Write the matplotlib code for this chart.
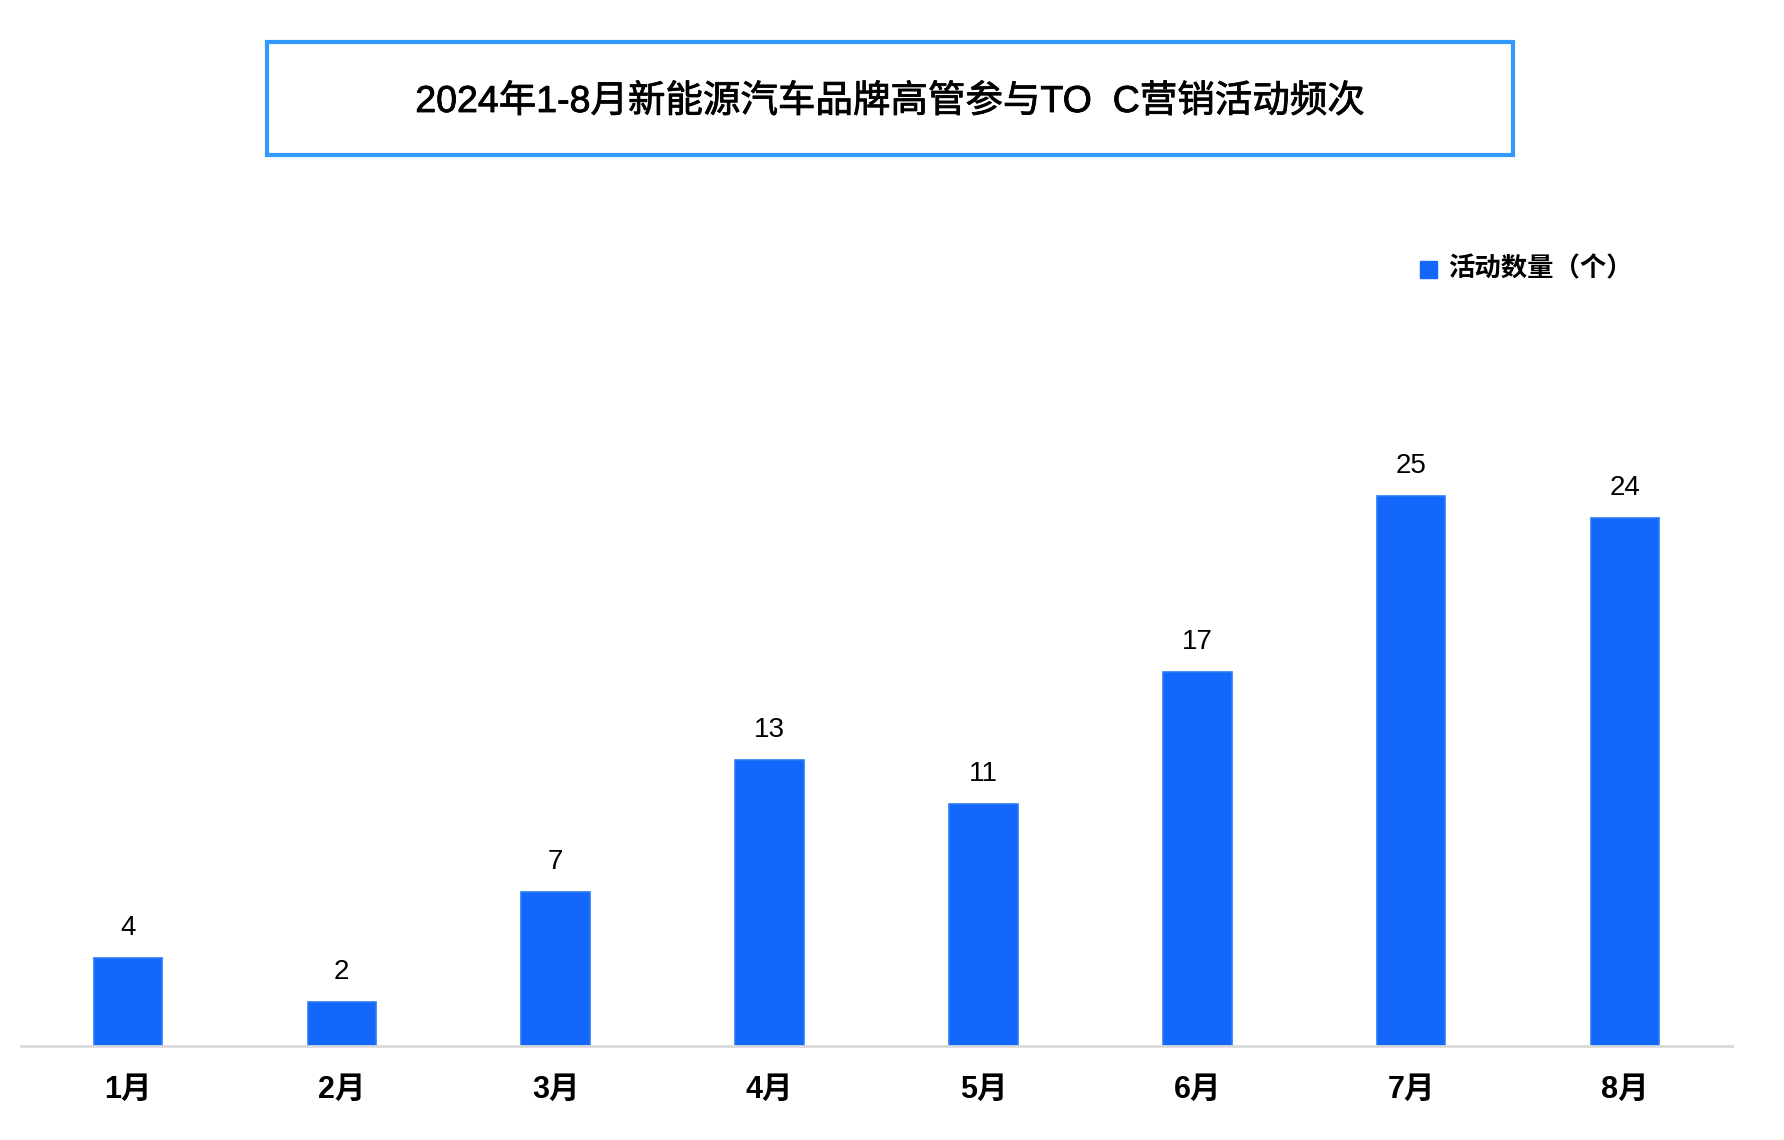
import matplotlib
matplotlib.use("Agg")
import matplotlib.pyplot as plt
from matplotlib.patches import Rectangle

plt.rcParams['font.family'] = ['Liberation Sans', 'Noto Sans CJK SC', 'DejaVu Sans']

# Data
months = ["1月", "2月", "3月", "4月", "5月", "6月", "7月", "8月"]
counts = [4, 2, 7, 13, 11, 17, 25, 24]
series_name = "活动数量（个）"
title = "2024年1-8月新能源汽车品牌高管参与TO  C营销活动频次"

W, H = 1784, 1140
fig = plt.figure(figsize=(W / 100, H / 100), dpi=100)

bar_color = "#1367FB"

# Plot area: bottom at y=1046 px, left at x=21 px
ax_left, ax_right = 21, 1732
ax_bottom, ax_top = 1046, 300
ax = fig.add_axes([ax_left / W, 1 - ax_bottom / H,
                   (ax_right - ax_left) / W, (ax_bottom - ax_top) / H])

x = list(range(len(months)))
ax.bar(x, counts, width=0.32, color=bar_color, edgecolor="#2A7BF5", linewidth=1.2, zorder=2)

ax.set_xlim(-0.5, 7.5)
ax.set_ylim(0, (ax_bottom - ax_top) / 22.0)

for xi, v in zip(x, counts):
    ax.annotate(str(v), (xi, v), xytext=(0, 12), textcoords="offset points",
                ha="center", va="bottom", fontsize=20, color="black")

for s in ["top", "right", "left"]:
    ax.spines[s].set_visible(False)
ax.spines["bottom"].set_color("#D9D9D9")
ax.spines["bottom"].set_linewidth(2)
ax.set_yticks([])
ax.set_xticks(x)
ax.set_xticklabels(months, fontsize=22, fontweight="bold")
ax.tick_params(axis="x", length=0, pad=21)

# Title box
box = Rectangle((267 / W, 1 - 155 / H), (1513 - 267) / W, (155 - 42) / H,
                transform=fig.transFigure, fill=False, edgecolor="#3399FF", linewidth=3)
fig.add_artist(box)
fig.text(890 / W, 1 - 102 / H, title, ha="center", va="center", fontsize=27,
         color="black", path_effects=[])
t = fig.texts[-1]
import matplotlib.patheffects as pe
t.set_path_effects([pe.withStroke(linewidth=0.6, foreground="black")])

# Legend
fig.add_artist(Rectangle((1420 / W, 1 - 278 / H), 17 / W, 17 / H,
                         transform=fig.transFigure, color=bar_color))
fig.text(1448 / W, 1 - 269 / H, series_name, ha="left", va="center",
         fontsize=19, fontweight="bold", color="black")

fig.savefig("out.png", dpi=100)
